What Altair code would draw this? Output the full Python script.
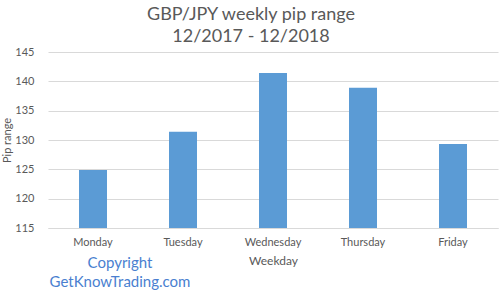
import altair as alt
import pandas as pd

days = ["Monday", "Tuesday", "Wednesday", "Thursday", "Friday"]
pips = [124.9, 131.4, 141.4, 138.9, 129.3]

df = pd.DataFrame({"day": days, "pips": pips})

FONT = "Lato"
GREY = "#595959"

bars = alt.Chart(df).mark_bar(color="#5b9bd5", size=28, clip=True).encode(
    x=alt.X("day:N", sort=days, title="Weekday",
            scale=alt.Scale(paddingInner=0, paddingOuter=0),
            axis=alt.Axis(labelAngle=0, ticks=False, domainColor="#d9d9d9",
                          labelColor=GREY, labelFont=FONT, labelFontSize=11,
                          labelPadding=8, titleColor=GREY, titleFont=FONT,
                          titleFontSize=12, titleFontWeight="normal", titlePadding=8)),
    y=alt.Y("pips:Q", title="Pip range",
            scale=alt.Scale(domain=[115, 145], zero=False, nice=False),
            axis=alt.Axis(values=[115, 120, 125, 130, 135, 140, 145], ticks=False,
                          domain=False, gridColor="#d9d9d9", labelColor=GREY,
                          labelFont=FONT, labelFontSize=11, labelPadding=14,
                          titleColor=GREY, titleFont=FONT, titleFontSize=11,
                          titleFontWeight="normal", titlePadding=2)),
)

copy_lines = ["Copyright", "GetKnowTrading.com"]

def copy_text(txt, ypos):
    return alt.Chart(pd.DataFrame({"t": [txt]})).mark_text(
        color="#4a7fd0", font=FONT, fontSize=15, align="center", baseline="middle"
    ).encode(x=alt.value(72), y=alt.value(ypos), text="t:N")

chart = alt.layer(bars, copy_text(copy_lines[0], 211), copy_text(copy_lines[1], 230)).properties(
    width=450, height=176,
    title=alt.TitleParams(["GBP/JPY weekly pip range", "12/2017 - 12/2018"],
                          font=FONT, fontSize=18, fontWeight="normal", color=GREY,
                          lineHeight=22, offset=0, dx=-22),
    autosize=alt.AutoSizeParams(type="none"),
    padding={"left": 48, "top": 52, "right": 5, "bottom": 63},
).configure_view(stroke=None)

chart.save("out.html", embed_options={"renderer": "svg", "actions": False})
